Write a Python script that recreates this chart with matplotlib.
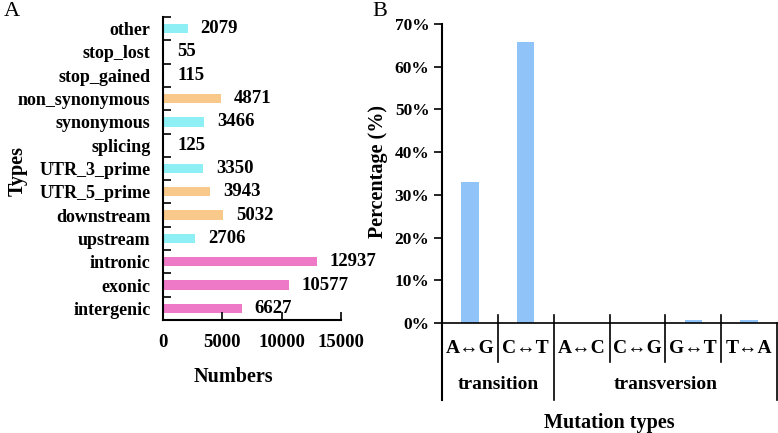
import matplotlib.pyplot as plt
import numpy as np

plt.rcParams['font.family'] = ['Liberation Serif', 'DejaVu Serif']
plt.rcParams['font.weight'] = 'bold'

# panel A data (bottom to top)
types = ['intergenic', 'exonic', 'intronic', 'upstream', 'downstream', 'UTR_5_prime',
         'UTR_3_prime', 'splicing', 'synonymous', 'non_synonymous', 'stop_gained',
         'stop_lost', 'other']
counts = [6627, 10577, 12937, 2706, 5032, 3943, 3350, 125, 3466, 4871, 115, 55, 2079]
cyan = '#8eeff5'
orange = '#f9c88b'
pink = '#ee7ac7'
bar_colors = [pink, pink, pink, cyan, orange, orange, cyan, cyan, cyan, orange, orange, orange, cyan]

# panel B data
mut_types = ['A\u2194G', 'C\u2194T', 'A\u2194C', 'C\u2194G', 'G\u2194T', 'T\u2194A']
percent = [32.9, 65.7, 0.1, 0.1, 0.6, 0.6]
groups = ['transition', 'transversion']
group_sizes = [2, 4]

W, H = 778, 433
fig = plt.figure(figsize=(W / 100, H / 100), dpi=100)

# ---- panel A ----
axA = fig.add_axes([163 / W, 1 - 320 / H, 178 / W, 303 / H])
y = np.arange(len(types))
axA.barh(y, counts, height=0.4, color=bar_colors)
for yi, v in zip(y, counts):
    axA.text(v + 1100, yi, str(v), va='center', ha='left', fontsize=13.5, fontweight='bold')
axA.set_xlim(0, 15000)
axA.set_ylim(-0.5, len(types) - 0.5)
axA.set_yticks(y)
axA.set_yticklabels(types, fontsize=13, fontweight='bold')
axA.set_yticks(np.arange(-0.5, len(types)), minor=True)
axA.tick_params(axis='y', which='major', length=0, pad=9)
axA.tick_params(axis='y', which='minor', direction='in', length=6, width=1.2)
axA.set_xticks([0, 5000, 10000, 15000])
axA.tick_params(axis='x', direction='in', length=6, width=1.2, pad=10, labelsize=13.5)
for lab in axA.get_xticklabels():
    lab.set_fontweight('bold')
for s in ['top', 'right']:
    axA.spines[s].set_visible(False)
axA.spines['left'].set_linewidth(1.5)
axA.spines['bottom'].set_linewidth(1.5)
fig.text(18 / W, 1 - 171 / H, 'Types', rotation=90, ha='center', va='center', fontsize=14.5, fontweight='bold')
fig.text(233 / W, 1 - 377 / H, 'Numbers', ha='center', va='center', fontsize=14.5, fontweight='bold')
fig.text(4 / W, 1 - 12 / H, 'A', ha='left', va='center', fontsize=16, fontweight='normal')

# ---- panel B ----
axB = fig.add_axes([442 / W, 1 - 323 / H, 335 / W, 299 / H])
x = np.arange(len(mut_types))
axB.bar(x, percent, width=0.31, color='#90c4f8')
axB.set_xlim(-0.5, len(mut_types) - 0.5)
axB.set_ylim(0, 70)
axB.set_yticks(np.arange(0, 71, 10))
axB.set_yticklabels(['%d%%' % t for t in range(0, 71, 10)], fontsize=12.5, fontweight='bold')
axB.tick_params(axis='y', direction='out', length=6, width=1.2, pad=3)
axB.set_xticks([])
for s in ['top', 'right']:
    axB.spines[s].set_visible(False)
axB.spines['left'].set_linewidth(1.5)
axB.spines['bottom'].set_linewidth(1.2)

tr = axB.get_xaxis_transform()
# dividers and labels below the axis
axB.plot([-0.5, -0.5], [0, -0.258], transform=tr, clip_on=False, color='black', lw=1.5)
axB.plot([len(mut_types) - 0.5] * 2, [0, -0.258], transform=tr, clip_on=False, color='black', lw=1.2)
bounds = np.cumsum(group_sizes)[:-1]
for b in range(1, len(mut_types)):
    bottom = -0.258 if b in bounds else -0.13
    axB.plot([b - 0.5, b - 0.5], [0.027, bottom], transform=tr, clip_on=False, color='black', lw=1.2)
for xi, name in zip(x, mut_types):
    axB.text(xi, -0.084, name, transform=tr, ha='center', va='center', fontsize=14, fontweight='bold')
start = 0
for g, n in zip(groups, group_sizes):
    axB.text(start + (n - 1) / 2, -0.207, g, transform=tr, ha='center', va='center', fontsize=14, fontweight='bold')
    start += n
fig.text(378 / W, 1 - 171 / H, 'Percentage (%)', rotation=90, ha='center', va='center', fontsize=14.5, fontweight='bold')
fig.text(609 / W, 1 - 423 / H, 'Mutation types', ha='center', va='center', fontsize=14.5, fontweight='bold')
fig.text(372 / W, 1 - 12 / H, 'B', ha='left', va='center', fontsize=16, fontweight='normal')

fig.savefig('out.png', dpi=100)
